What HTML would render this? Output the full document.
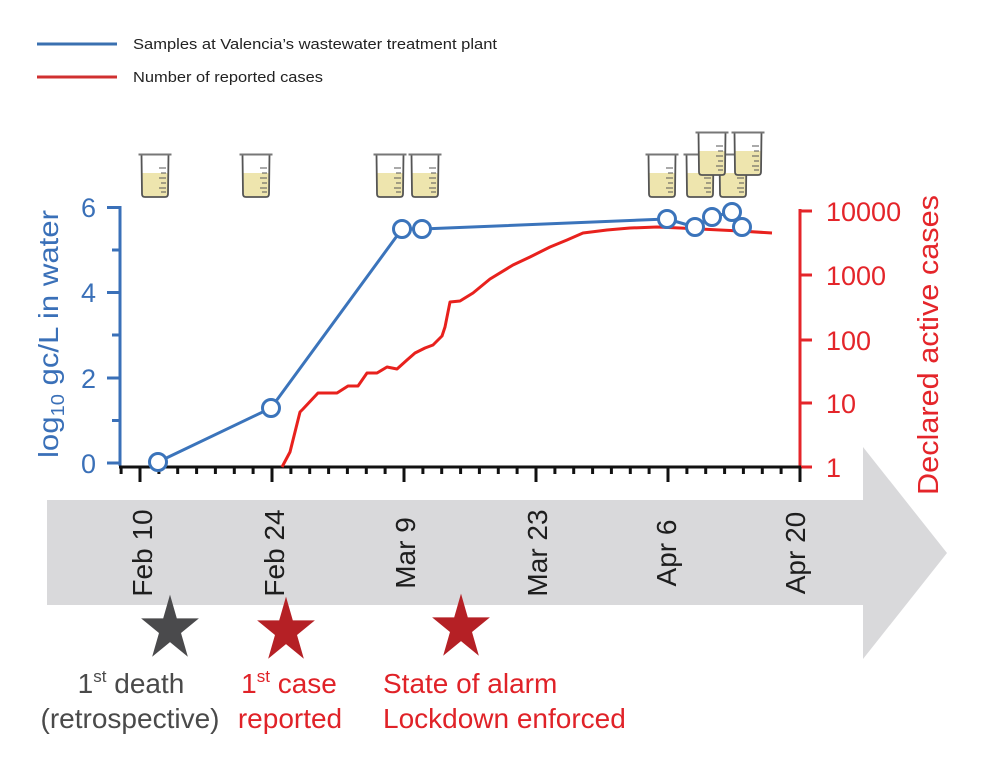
<!DOCTYPE html>
<html><head><meta charset="utf-8"><style>
html,body{margin:0;padding:0;background:#fff;}
svg{display:block;}
text{font-family:"Liberation Sans",Arial,sans-serif;}
</style></head><body>
<svg width="982" height="765" viewBox="0 0 982 765" xmlns="http://www.w3.org/2000/svg">
<defs>
  <g id="beaker">
    <path d="M1,0 L2,40 Q2,43 5,43 L25,43 Q28,43 28,40 L29,0 Z" fill="#fff" stroke="none"/>
    <path d="M2,19 L2.5,40 Q2.5,42.5 5,42.5 L25,42.5 Q27.5,42.5 27.5,40 L28,19 Z" fill="#eee5ae"/>
    <path d="M1.5,0 L2,40 Q2,43 5,43 L25,43 Q28,43 28,40 L28.5,0" fill="none" stroke="#555" stroke-width="1.8"/>
    <line x1="-1.5" y1="0.5" x2="31.5" y2="0.5" stroke="#777" stroke-width="2"/>
    <g stroke="#555" stroke-width="1">
      <line x1="19" y1="14" x2="26" y2="14"/>
      <line x1="21" y1="19" x2="26" y2="19"/>
      <line x1="19" y1="24" x2="26" y2="24"/>
      <line x1="21" y1="29" x2="26" y2="29"/>
      <line x1="19" y1="34" x2="26" y2="34"/>
      <line x1="21" y1="38" x2="26" y2="38"/>
    </g>
  </g>
  <path id="star" d="M0,-33 L7.41,-10.19 L31.39,-10.2 L11.98,3.89 L19.4,26.7 L0,12.6 L-19.4,26.7 L-11.98,3.89 L-31.39,-10.2 L-7.41,-10.19 Z"/>
</defs>

<!-- Legend -->
<line x1="37" y1="44" x2="117" y2="44" stroke="#3a70b0" stroke-width="3"/>
<text x="133" y="49" font-size="14.5" fill="#222" textLength="364" lengthAdjust="spacingAndGlyphs">Samples at Valencia’s wastewater treatment plant</text>
<line x1="37" y1="77" x2="117" y2="77" stroke="#d03030" stroke-width="3"/>
<text x="133" y="82" font-size="14.5" fill="#222" textLength="190" lengthAdjust="spacingAndGlyphs">Number of reported cases</text>

<!-- Gray arrow -->
<rect x="47" y="500" width="817" height="105" fill="#d9d9db"/>
<polygon points="863,447 947,553 863,659" fill="#d9d9db"/>

<!-- Beakers -->
<use href="#beaker" x="140" y="154"/>
<use href="#beaker" x="241" y="154"/>
<use href="#beaker" x="375" y="154"/>
<use href="#beaker" x="410" y="154"/>
<use href="#beaker" x="647" y="154"/>
<use href="#beaker" x="685" y="154"/>
<use href="#beaker" x="718" y="154"/>
<use href="#beaker" x="697" y="132"/>
<use href="#beaker" x="733" y="132"/>

<!-- Left axis -->
<g stroke="#3a70b8" stroke-width="3" fill="none">
  <line x1="120" y1="206" x2="120" y2="466"/>
  <line x1="107" y1="207.5" x2="120" y2="207.5"/>
  <line x1="112" y1="250" x2="120" y2="250"/>
  <line x1="107" y1="292.5" x2="120" y2="292.5"/>
  <line x1="112" y1="335" x2="120" y2="335"/>
  <line x1="107" y1="378" x2="120" y2="378"/>
  <line x1="112" y1="420.5" x2="120" y2="420.5"/>
  <line x1="107" y1="463" x2="120" y2="463"/>
</g>
<g fill="#3a70b8" font-size="27" text-anchor="end">
  <text x="96" y="217">6</text>
  <text x="96" y="302">4</text>
  <text x="96" y="388">2</text>
  <text x="96" y="473">0</text>
</g>
<text transform="translate(58,334) rotate(-90)" text-anchor="middle" font-size="28" fill="#3a70b8" textLength="248" lengthAdjust="spacingAndGlyphs">log<tspan font-size="18" dy="6">10</tspan><tspan dy="-6"> gc/L in water</tspan></text>

<!-- Right axis -->
<g stroke="#e4252a" stroke-width="3" fill="none">
  <line x1="800" y1="209" x2="800" y2="468"/>
  <line x1="800" y1="211" x2="812" y2="211"/>
  <line x1="800" y1="275" x2="812" y2="275"/>
  <line x1="800" y1="340" x2="812" y2="340"/>
  <line x1="800" y1="403" x2="812" y2="403"/>
  <line x1="800" y1="467" x2="812" y2="467"/>
</g>
<g fill="#e4252a" font-size="27">
  <text x="826" y="221">10000</text>
  <text x="826" y="285">1000</text>
  <text x="826" y="350">100</text>
  <text x="826" y="413">10</text>
  <text x="826" y="477">1</text>
</g>
<text transform="translate(938,345) rotate(-90)" text-anchor="middle" font-size="29" fill="#e4252a" textLength="300" lengthAdjust="spacingAndGlyphs">Declared active cases</text>

<!-- X axis -->
<g stroke="#111" stroke-width="3" fill="none">
  <line x1="119" y1="467" x2="801" y2="467"/>
  <line x1="121.1" y1="467" x2="121.1" y2="474"/>
  <line x1="140" y1="467" x2="140" y2="482"/>
  <line x1="158.9" y1="467" x2="158.9" y2="474"/>
  <line x1="177.7" y1="467" x2="177.7" y2="474"/>
  <line x1="196.6" y1="467" x2="196.6" y2="474"/>
  <line x1="215.4" y1="467" x2="215.4" y2="474"/>
  <line x1="234.3" y1="467" x2="234.3" y2="474"/>
  <line x1="253.1" y1="467" x2="253.1" y2="474"/>
  <line x1="272" y1="467" x2="272" y2="482"/>
  <line x1="290.9" y1="467" x2="290.9" y2="474"/>
  <line x1="309.7" y1="467" x2="309.7" y2="474"/>
  <line x1="328.6" y1="467" x2="328.6" y2="474"/>
  <line x1="347.4" y1="467" x2="347.4" y2="474"/>
  <line x1="366.3" y1="467" x2="366.3" y2="474"/>
  <line x1="385.1" y1="467" x2="385.1" y2="474"/>
  <line x1="404" y1="467" x2="404" y2="482"/>
  <line x1="422.9" y1="467" x2="422.9" y2="474"/>
  <line x1="441.7" y1="467" x2="441.7" y2="474"/>
  <line x1="460.6" y1="467" x2="460.6" y2="474"/>
  <line x1="479.4" y1="467" x2="479.4" y2="474"/>
  <line x1="498.3" y1="467" x2="498.3" y2="474"/>
  <line x1="517.1" y1="467" x2="517.1" y2="474"/>
  <line x1="536" y1="467" x2="536" y2="482"/>
  <line x1="554.9" y1="467" x2="554.9" y2="474"/>
  <line x1="573.7" y1="467" x2="573.7" y2="474"/>
  <line x1="592.6" y1="467" x2="592.6" y2="474"/>
  <line x1="611.4" y1="467" x2="611.4" y2="474"/>
  <line x1="630.3" y1="467" x2="630.3" y2="474"/>
  <line x1="649.1" y1="467" x2="649.1" y2="474"/>
  <line x1="668" y1="467" x2="668" y2="482"/>
  <line x1="686.9" y1="467" x2="686.9" y2="474"/>
  <line x1="705.7" y1="467" x2="705.7" y2="474"/>
  <line x1="724.6" y1="467" x2="724.6" y2="474"/>
  <line x1="743.4" y1="467" x2="743.4" y2="474"/>
  <line x1="762.3" y1="467" x2="762.3" y2="474"/>
  <line x1="781.1" y1="467" x2="781.1" y2="474"/>
  <line x1="800" y1="467" x2="800" y2="482"/>
</g>

<!-- Red cases line -->
<polyline fill="none" stroke="#e8211d" stroke-width="3" stroke-linejoin="round" points="282,467 290,452 300,412 303,409 318,393 337,393 348,386 358,386 367,373 377,373 387,367 397,369 407,360 415,353 425,348 433,345 442,336 445,327 450,302 460,301 473,293 490,279 513,265 530,257 550,247 567,240 583,233 607,230 630,228 657,227 680,228 700,229 740,231 772,233"/>

<!-- Blue samples line -->
<polyline fill="none" stroke="#3b74bb" stroke-width="3" stroke-linejoin="round" points="158,462 271,408 402,229 422,229 667,219 695,227 712,217 732,212 742,227"/>
<g fill="#fff" stroke="#3b74bb" stroke-width="3">
  <circle cx="158" cy="462" r="8.5"/>
  <circle cx="271" cy="408" r="8.5"/>
  <circle cx="402" cy="229" r="8.5"/>
  <circle cx="422" cy="229" r="8.5"/>
  <circle cx="667" cy="219" r="8.5"/>
  <circle cx="695" cy="227" r="8.5"/>
  <circle cx="712" cy="217" r="8.5"/>
  <circle cx="732" cy="212" r="8.5"/>
  <circle cx="742" cy="227" r="8.5"/>
</g>

<!-- Date labels -->
<g fill="#1e1e1e" font-size="28" text-anchor="middle">
  <text transform="translate(152,553) rotate(-90)">Feb 10</text>
  <text transform="translate(284,553) rotate(-90)">Feb 24</text>
  <text transform="translate(415,553) rotate(-90)">Mar 9</text>
  <text transform="translate(547,553) rotate(-90)">Mar 23</text>
  <text transform="translate(676,553) rotate(-90)">Apr 6</text>
  <text transform="translate(805,553) rotate(-90)">Apr 20</text>
</g>

<!-- Stars -->
<use href="#star" fill="#4a4a4c" transform="translate(170,629) scale(0.92,1.04)"/>
<use href="#star" fill="#b52025" transform="translate(286,631) scale(0.92,1.04)"/>
<use href="#star" fill="#b52025" transform="translate(461,628) scale(0.92,1.04)"/>

<!-- Event texts -->
<g font-size="28" text-anchor="middle">
  <text x="131" y="693" fill="#4a4a4a">1<tspan font-size="17" dy="-11">st</tspan><tspan dy="11"> death</tspan></text>
  <text x="130" y="728" fill="#4a4a4a">(retrospective)</text>
  <text x="289" y="693" fill="#e02228">1<tspan font-size="17" dy="-11">st</tspan><tspan dy="11"> case</tspan></text>
  <text x="290" y="728" fill="#e02228">reported</text>
</g>
<g font-size="28" fill="#e02228">
  <text x="383" y="693">State of alarm</text>
  <text x="383" y="728">Lockdown enforced</text>
</g>
</svg>
</body></html>
